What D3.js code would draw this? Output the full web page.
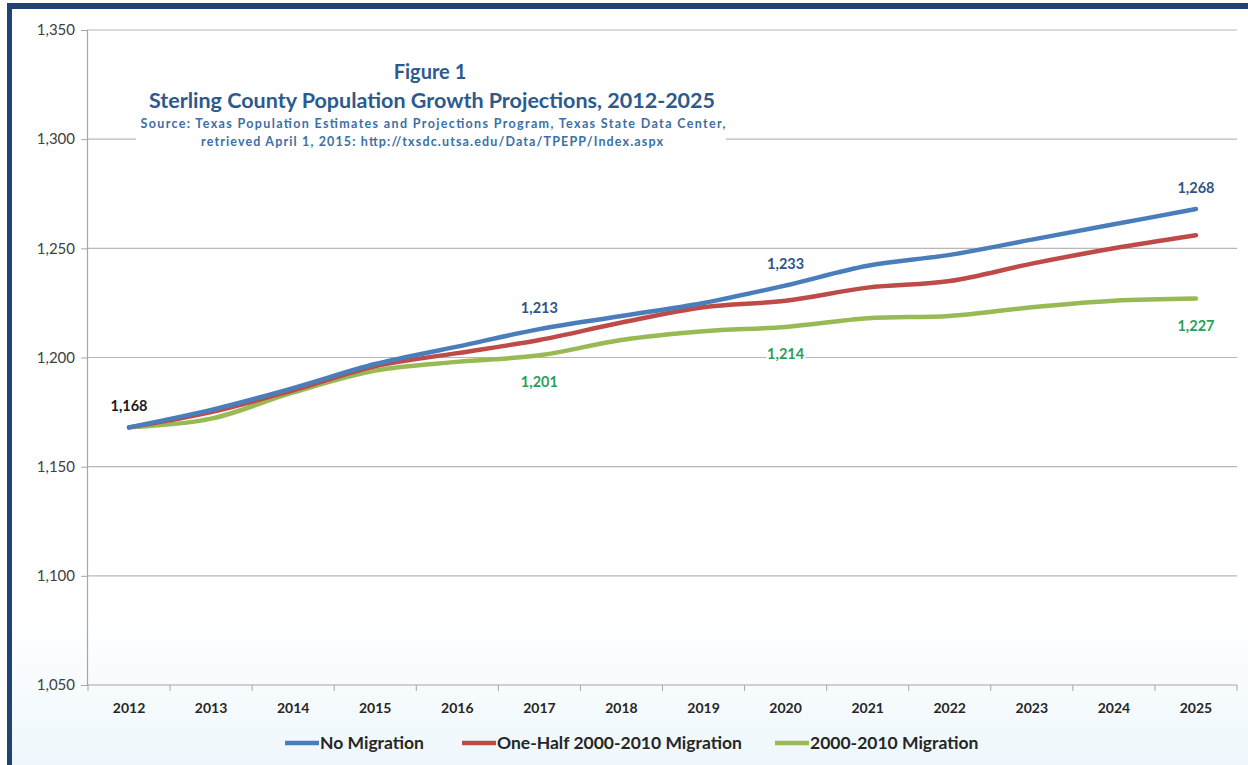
<!DOCTYPE html>
<html>
<head>
<meta charset="utf-8">
<script src="https://cdn.jsdelivr.net/npm/d3@7"></script>
<style>
  html, body { margin: 0; padding: 0; background: #fff; }
  svg { display: block; font-family: Lato, "Open Sans", sans-serif; }
</style>
</head>
<body>
<div id="chart"></div>
<script>
var years = ["2012","2013","2014","2015","2016","2017","2018","2019","2020","2021","2022","2023","2024","2025"];
var noMigration = [1168,1176,1186,1197,1205,1213,1219,1225,1233,1242,1247,1254,1261,1268];
var halfMigration = [1168,1175,1185,1196,1202,1208,1216,1223,1226,1232,1235,1243,1250,1256];
var fullMigration = [1168,1172,1184,1194,1198,1201,1208,1212,1214,1218,1219,1223,1226,1227];
var seriesNames = ["No Migration","One-Half 2000-2010 Migration","2000-2010 Migration"];
var yTicks = [1050,1100,1150,1200,1250,1300,1350];

// data labels: series index, year index, side
var labels = [
  {s: 0, i: 0, side: "above", color: "#1a1a1a"},
  {s: 0, i: 5, side: "above", color: "#2f5585"},
  {s: 0, i: 8, side: "above", color: "#2f5585"},
  {s: 0, i: 13, side: "above", color: "#2f5585"},
  {s: 2, i: 5, side: "below", color: "#2aa05a"},
  {s: 2, i: 8, side: "below", color: "#2aa05a"},
  {s: 2, i: 13, side: "below", color: "#2aa05a"}
];

var allSeries = [noMigration, halfMigration, fullMigration];
var colors = ["#4a7ebb", "#be4b48", "#98b954"];

var W = 1248, H = 765;
var svg = d3.select("#chart").append("svg")
  .attr("width", W).attr("height", H);

// background with faint bluish bottom
var defs = svg.append("defs");
var grad = defs.append("linearGradient").attr("id", "bg")
  .attr("x1", 0).attr("y1", 0).attr("x2", 0).attr("y2", 1);
grad.append("stop").attr("offset", "0.8").attr("stop-color", "#ffffff");
grad.append("stop").attr("offset", "1").attr("stop-color", "#eef7fb");
svg.append("rect").attr("width", W).attr("height", H).attr("fill", "url(#bg)");

// frame
svg.append("rect").attr("x", 0).attr("y", 0).attr("width", W).attr("height", 9)
  .attr("fill", "#1f4473");
svg.append("rect").attr("x", 0).attr("y", 0).attr("width", 12).attr("height", H)
  .attr("fill", "#ffffff");
svg.append("rect").attr("x", 7).attr("y", 3).attr("width", 5).attr("height", H)
  .attr("fill", "#1f4473");
svg.append("rect").attr("x", 0).attr("y", 0).attr("width", W).attr("height", 3)
  .attr("fill", "#ffffff");

var x = d3.scaleBand().domain(years).range([88, 1237]);
var y = d3.scaleLinear().domain([1050, 1350]).range([685, 30]);

// gridlines
svg.append("g").selectAll("line")
  .data(yTicks.slice(1))
  .enter().append("line")
  .attr("x1", 87).attr("x2", 1237)
  .attr("y1", function(d){ return y(d); })
  .attr("y2", function(d){ return y(d); })
  .attr("stroke", "#b8b8b8").attr("stroke-width", 1.2);

// y axis
var yAxis = d3.axisLeft(y).tickValues(yTicks).tickSize(6).tickPadding(6)
  .tickFormat(d3.format(","));
var gy = svg.append("g").attr("transform", "translate(87,0)").call(yAxis);
gy.select(".domain").attr("stroke", "#a6a6a6").attr("stroke-width", 1.2);
gy.selectAll(".tick line").attr("stroke", "#a6a6a6");
gy.selectAll("text").attr("font-size", 15).attr("fill", "#404040")
  .attr("font-family", "Lato, sans-serif");

// x axis with ticks between categories
var gx = svg.append("g").attr("transform", "translate(0,685)");
gx.append("line").attr("x1", 87).attr("x2", 1237).attr("y1", 0).attr("y2", 0)
  .attr("stroke", "#a6a6a6").attr("stroke-width", 1.2);
gx.selectAll(".sep")
  .data(years.concat(["end"]))
  .enter().append("line")
  .attr("class", "sep")
  .attr("x1", function(d, i){ return i < years.length ? x(d) : x.range()[1]; })
  .attr("x2", function(d, i){ return i < years.length ? x(d) : x.range()[1]; })
  .attr("y1", 0).attr("y2", 6)
  .attr("stroke", "#a6a6a6");
gx.selectAll(".lbl")
  .data(years)
  .enter().append("text")
  .attr("class", "lbl")
  .attr("x", function(d){ return x(d) + x.bandwidth() / 2; })
  .attr("y", 28)
  .attr("text-anchor", "middle")
  .attr("font-size", 14).attr("font-weight", "bold").attr("fill", "#262626")
  .text(function(d){ return d; });

// title box
var tg = svg.append("g");
tg.append("rect").attr("x", 136).attr("y", 52).attr("width", 590).attr("height", 100)
  .attr("fill", "#ffffff");
tg.append("text").attr("x", 430).attr("y", 79).attr("text-anchor", "middle")
  .attr("font-size", 20).attr("font-weight", "bold").attr("fill", "#2d5a8e")
  .text("Figure 1");
tg.append("text").attr("x", 432).attr("y", 108).attr("text-anchor", "middle")
  .attr("font-size", 21.5).attr("font-weight", "bold").attr("fill", "#2d5a8e")
  .text("Sterling County Population Growth Projections, 2012-2025");
tg.append("text").attr("x", 433).attr("y", 128).attr("text-anchor", "middle")
  .attr("font-size", 12.5).attr("font-weight", "bold").attr("fill", "#3c6fa6")
  .attr("textLength", 585).attr("lengthAdjust", "spacing")
  .text("Source: Texas Population Estimates and Projections Program, Texas State Data Center,");
tg.append("text").attr("x", 432).attr("y", 146).attr("text-anchor", "middle")
  .attr("font-size", 12.5).attr("font-weight", "bold").attr("fill", "#3c6fa6")
  .attr("textLength", 462).attr("lengthAdjust", "spacing")
  .text("retrieved April 1, 2015: http://txsdc.utsa.edu/Data/TPEPP/Index.aspx");

// lines
var line = d3.line()
  .x(function(d, i){ return x(years[i]) + x.bandwidth() / 2; })
  .y(function(d){ return y(d); })
  .curve(d3.curveCatmullRom.alpha(0.5));

[2, 1, 0].forEach(function(s){
  svg.append("path")
    .attr("d", line(allSeries[s]))
    .attr("fill", "none")
    .attr("stroke", colors[s])
    .attr("stroke-width", 4.5)
    .attr("stroke-linecap", "round");
});

// data labels
svg.append("g").selectAll("text")
  .data(labels)
  .enter().append("text")
  .attr("x", function(d){ return x(years[d.i]) + x.bandwidth() / 2; })
  .attr("y", function(d){
    var v = allSeries[d.s][d.i];
    return d.side === "above" ? y(v) - 16 : y(v) + 32;
  })
  .attr("text-anchor", "middle")
  .attr("font-size", 14.5).attr("font-weight", "bold")
  .attr("fill", function(d){ return d.color; })
  .attr("stroke", "#ffffff").attr("stroke-width", 4)
  .attr("paint-order", "stroke")
  .text(function(d){ return d3.format(",")(allSeries[d.s][d.i]); });

// legend
var legendX = [285, 462, 775];
var lg = svg.append("g").attr("transform", "translate(0,743)");
seriesNames.forEach(function(name, s){
  lg.append("line").attr("x1", legendX[s]).attr("x2", legendX[s] + 34)
    .attr("y1", 0).attr("y2", 0)
    .attr("stroke", colors[s]).attr("stroke-width", 4.5);
  lg.append("text").attr("x", legendX[s] + 35).attr("y", 6)
    .attr("font-size", 17.5).attr("font-weight", "bold").attr("fill", "#262626")
    .text(name);
});
</script>
</body>
</html>
